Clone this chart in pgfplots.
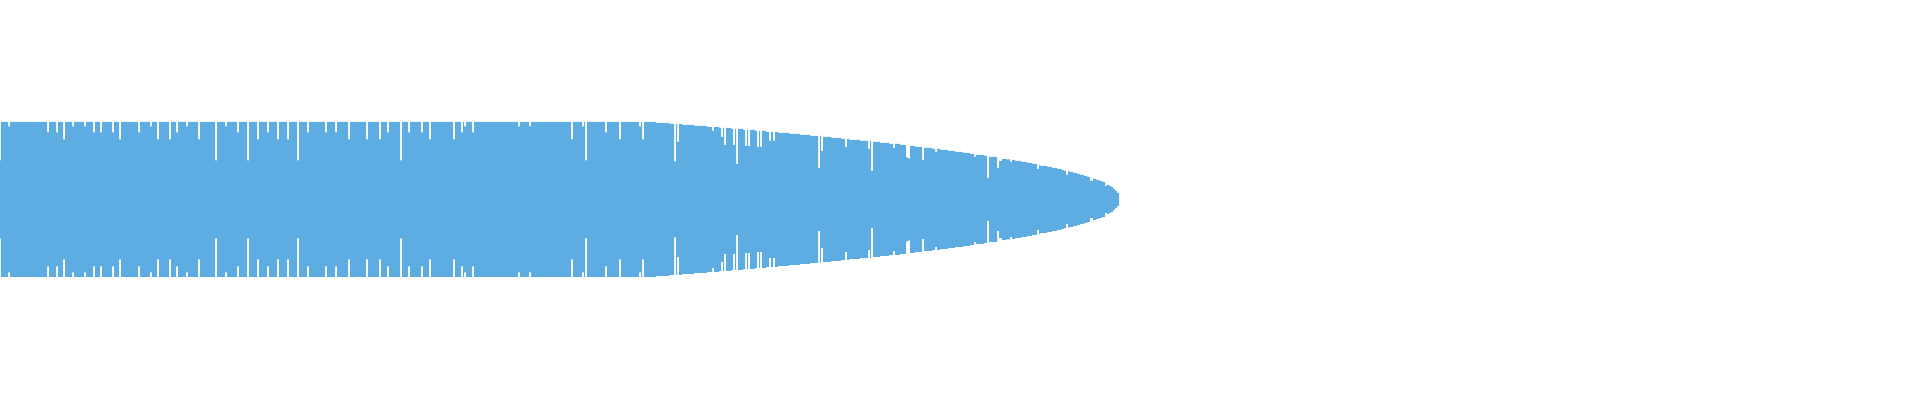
\documentclass[border=0pt]{standalone}
\usepackage{pgfplots}
\usepackage{pgfplotstable}
\pgfplotsset{compat=1.18}
\usepgfplotslibrary{fillbetween}
\definecolor{wave}{HTML}{5DADE2}

% segments: each row starts a step (x in px, half height in px)
\pgfplotstableread{
x h
0 39
1 77.5
8 73
10 77.5
47 67
49 77.5
56 67
58 77.5
63 60
65 77.5
72 73
74 77.5
84 73
86 77.5
93 67
95 77.5
100 67
102 77.5
112 67
114 77.5
119 60
121 77.5
138 67
140 77.5
150 73
152 77.5
157 60
159 77.5
169 60
171 77.5
176 67
178 77.5
186 73
188 77.5
198 60
200 77.5
215 39
217 77.5
225 73
227 77.5
237 67
239 77.5
247 39
249 77.5
257 60
259 77.5
267 67
269 77.5
277 60
279 77.5
287 60
289 77.5
297 39
299 77.5
307 67
309 77.5
325 67
327 77.5
335 67
337 77.5
348 60
350 77.5
366 60
368 77.5
379 60
381 77.5
387 67
389 77.5
400 39
402 77.5
408 67
410 77.5
421 67
423 77.5
429 60
431 77.5
453 60
455 77.5
461 67
463 77.5
464 73
466 77.5
472 67
474 77.5
518 73
520 77.5
529 73
531 77.5
571 60
573 77.5
582 73
584 77.5
585 39
587 77.5
605 67
607 77.5
619 60
621 77.5
639 73
641 77.5
642 60
644 77.5
656 76.5
669 75.5
674 38
676 75.5
677 57.5
679 75.5
682 74.5
694 73.5
707 72.5
712 68.5
714 72.5
719 71.5
721 62.5
723 71.5
724 54.5
726 71.5
731 70.5
733 54.5
735 70.5
736 35.5
738 70.5
743 69.5
745 53.5
747 69.5
748 53.5
750 69.5
755 68.5
757 52.5
759 68.5
760 52.5
762 68.5
766 67.5
769 58.5
771 67.5
773 58.5
775 67.5
778 66.5
789 65.5
800 64.5
810 63.5
818 31.5
820 63.5
821 48.5
823 62.5
831 61.5
841 60.5
845 52.5
847 60.5
849 59.5
860 58.5
868 50.5
870 58.5
871 28.5
873 57.5
880 56.5
889 55.5
893 51.5
895 55.5
900 54.5
906 42
908 41
910 53.5
915 52.5
922 39.5
924 51.5
932 50.5
935 47.5
937 50.5
940 49.5
948 48.5
955 47.5
963 46.5
970 45.5
974 42.5
976 44.5
984 43.5
987 21.5
989 42.5
997 31.5
999 38.5
1002 40.5
1006 40
1010 37.5
1012 39.5
1015 38.5
1021 37.5
1027 36.5
1032 35.5
1037 30.5
1039 34.5
1040 33.5
1047 32.5
1052 31.5
1057 30.5
1061 29.5
1064 28.5
1066 24.5
1068 28.5
1069 27.5
1073 26.5
1077 25.5
1080 24.5
1084 23.5
1087 22.5
1090 18.5
1093 20.5
1096 19.5
1099 18.5
1102 17.5
1105 13.5
1107 14.5
1109 13.5
1111 12.5
1113 10.5
1115 8.5
1117 6.5
1119 0
}\wavedata

\begin{document}
\begin{tikzpicture}
\begin{axis}[
    scale only axis,
    width=19.2cm, height=4cm,
    xmin=0, xmax=1920,
    ymin=-200.5, ymax=199.5,
    hide axis,
]
    \addplot[name path=top, const plot, draw=none] table[x=x, y=h] {\wavedata};
    \addplot[name path=bot, const plot, draw=none] table[x=x, y expr=-\thisrow{h}] {\wavedata};
    \addplot[fill=wave, draw=none] fill between[of=top and bot];
\end{axis}
\path (current axis.south west) rectangle (current axis.north east);
\end{tikzpicture}
\end{document}
